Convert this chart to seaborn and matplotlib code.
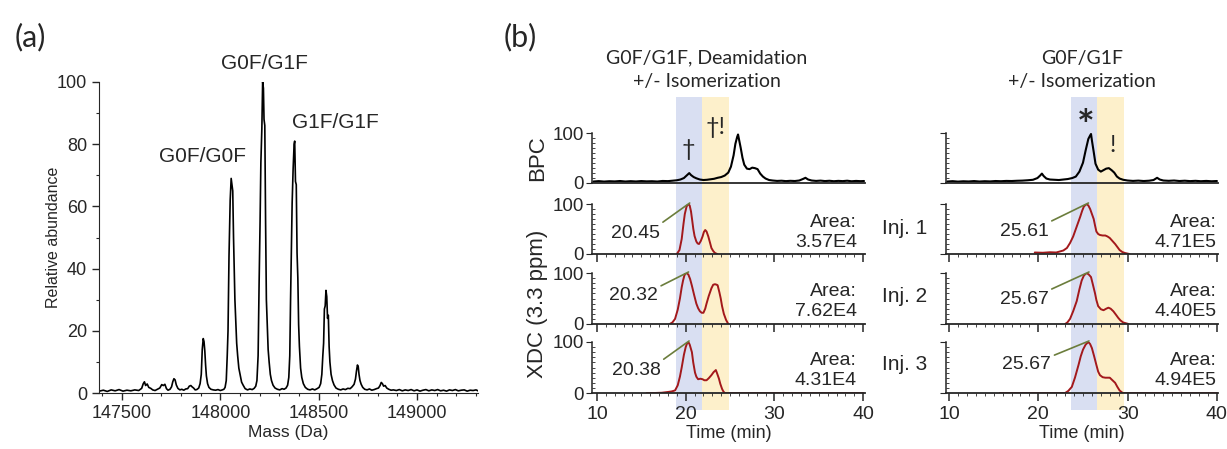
import numpy as np
import pandas as pd
import seaborn as sns
import matplotlib
matplotlib.use('Agg')
from matplotlib import pyplot as plt
from matplotlib.ticker import MultipleLocator, FixedLocator, NullLocator

sns.set_style('ticks')
plt.rcParams['font.family'] = ['Liberation Sans', 'DejaVu Sans']
CAL = ['Lato', 'DejaVu Sans']

#(a) deconvoluted intact mass spectrum
mass_da = [
    147385, 147405, 147425, 147445, 147465, 147485, 147505, 147525, 147545, 147565,
    147585, 147600, 147608, 147614, 147620, 147628, 147636, 147646, 147656, 147668,
    147680, 147692, 147702, 147710, 147718, 147726, 147734, 147744, 147752, 147758,
    147764, 147770, 147776, 147784, 147794, 147804, 147814, 147824, 147834, 147842,
    147850, 147856, 147864, 147872, 147880, 147890, 147897, 147903, 147908, 147913,
    147917, 147921, 147925, 147929, 147935, 147942, 147952, 147964, 147976, 147988,
    148000, 148010, 148018, 148024, 148030, 148035, 148039, 148044, 148050, 148055,
    148059, 148063, 148067, 148070, 148074, 148078, 148083, 148088, 148094, 148100,
    148108, 148116, 148126, 148138, 148150, 148162, 148172, 148180, 148186, 148192,
    148197, 148202, 148206, 148211, 148215, 148219, 148222, 148226, 148230, 148234,
    148238, 148243, 148248, 148254, 148260, 148268, 148278, 148290, 148302, 148314,
    148324, 148334, 148342, 148348, 148353, 148357, 148361, 148365, 148370, 148375,
    148378, 148382, 148386, 148390, 148394, 148398, 148402, 148408, 148414, 148422,
    148432, 148444, 148456, 148468, 148480, 148492, 148502, 148510, 148516, 148521,
    148525, 148529, 148533, 148537, 148541, 148545, 148549, 148553, 148557, 148563,
    148570, 148578, 148588, 148600, 148612, 148624, 148636, 148648, 148660, 148670,
    148680, 148687, 148692, 148697, 148701, 148705, 148710, 148716, 148724, 148734,
    148746, 148758, 148770, 148782, 148794, 148804, 148812, 148818, 148824, 148830,
    148838, 148846, 148856, 148868, 148880, 148895, 148910, 148925, 148940, 148955,
    148970, 148985, 149000, 149015, 149030, 149045, 149060, 149075, 149090, 149105,
    149120, 149135, 149150, 149165, 149180, 149195, 149210, 149225, 149240, 149255,
    149270, 149285, 149300, 149310]
rel_abund = [
    0.6, 0.9, 0.5, 1.0, 0.7, 1.1, 0.6, 0.9, 0.7, 1.0,
    0.8, 1.5, 3.0, 3.6, 2.4, 2.9, 1.8, 1.5, 1.0, 0.8,
    1.2, 1.6, 2.7, 2.4, 2.8, 1.4, 0.9, 1.2, 2.0, 3.6,
    4.6, 4.2, 2.6, 1.5, 1.0, 1.2, 0.9, 1.3, 1.4, 2.2,
    2.4, 2.0, 1.6, 1.0, 1.1, 1.6, 3.0, 6.0, 14.0, 17.5,
    16.5, 13.5, 9.0, 5.5, 3.0, 1.8, 1.2, 1.0, 0.9, 1.1,
    0.8, 1.0, 1.2, 1.8, 4.0, 12.0, 20.0, 44.0, 62.0, 69.0,
    67.0, 65.0, 50.0, 42.0, 30.0, 24.0, 16.0, 12.0, 8.0, 6.0,
    3.5, 2.5, 1.4, 1.0, 1.3, 1.1, 1.5, 2.2, 4.0, 12.0,
    35.0, 55.0, 74.0, 85.0, 100.0, 98.0, 88.0, 86.0, 55.0, 30.0,
    23.0, 14.0, 10.0, 6.0, 4.0, 2.5, 1.6, 1.2, 1.0, 1.4,
    1.2, 1.6, 2.5, 5.0, 12.0, 30.0, 45.0, 61.0, 72.0, 80.0,
    81.0, 68.0, 67.0, 45.0, 37.0, 22.0, 15.0, 8.0, 5.0, 3.0,
    1.8, 1.2, 1.0, 1.3, 1.0, 1.4, 1.8, 3.0, 6.0, 12.0,
    16.0, 27.0, 28.0, 33.0, 31.0, 24.0, 25.0, 15.0, 10.0, 6.0,
    4.0, 2.6, 1.6, 1.2, 1.0, 1.3, 1.1, 1.5, 1.4, 2.0,
    2.8, 4.5, 7.0, 9.0, 8.5, 6.0, 4.0, 2.8, 1.8, 1.2,
    1.0, 1.3, 0.9, 1.1, 1.4, 1.6, 2.4, 3.4, 3.0, 2.2,
    2.4, 1.6, 1.2, 0.9, 1.0, 0.8, 1.1, 0.7, 1.0, 0.8,
    1.1, 0.7, 1.0, 0.6, 0.9, 1.1, 0.7, 1.0, 0.8, 1.1,
    0.7, 0.9, 0.6, 1.0, 0.8, 1.1, 0.7, 0.9, 1.0, 0.6,
    0.9, 0.8, 1.0, 0.7]
glyco_labels = ['G0F/G0F', 'G0F/G1F', 'G1F/G1F']
glyco_label_mass = [147907, 148223, 148584]
glyco_label_y = [76, 106, 87]

#(b) base peak chromatograms
bpc_dea_t = [
    9.6, 10.2, 10.8, 11.4, 12.0, 12.6, 13.2, 13.8, 14.4, 15.0,
    15.6, 16.2, 16.8, 17.4, 18.0, 18.5, 19.0, 19.4, 19.8, 20.1,
    20.4, 20.6, 20.9, 21.2, 21.6, 22.0, 22.4, 22.8, 23.2, 23.6,
    24.0, 24.4, 24.8, 25.1, 25.4, 25.6, 25.8, 25.9, 26.0, 26.2,
    26.4, 26.6, 26.9, 27.2, 27.5, 27.8, 28.1, 28.4, 28.7, 29.0,
    29.4, 29.8, 30.3, 30.8, 31.3, 31.8, 32.3, 32.8, 33.2, 33.5,
    33.8, 34.2, 34.7, 35.2, 35.7, 36.2, 36.7, 37.2, 37.7, 38.2,
    38.7, 39.2, 39.7, 40.1]
bpc_dea_i = [
    2.0, 2.8, 1.9, 2.6, 2.2, 3.0, 2.0, 2.7, 2.1, 2.9,
    2.3, 2.6, 2.0, 3.1, 2.8, 3.6, 4.5, 6.0, 9.0, 14.0,
    19.0, 15.0, 11.0, 8.5, 6.0, 5.0, 5.5, 6.5, 7.5, 9.5,
    11.0, 14.0, 20.0, 32.0, 55.0, 78.0, 92.0, 97.0, 88.0, 70.0,
    50.0, 36.0, 28.0, 27.0, 30.0, 29.0, 27.0, 18.0, 12.0, 8.0,
    5.0, 4.0, 3.2, 3.6, 2.8, 3.4, 3.0, 4.0, 7.0, 9.5,
    6.0, 4.0, 3.2, 3.8, 2.9, 3.5, 2.6, 3.3, 2.8, 3.6,
    2.5, 3.2, 2.7, 3.0]
bpc_iso_t = [
    9.8, 10.4, 11.0, 11.6, 12.2, 12.8, 13.4, 14.0, 14.6, 15.2,
    15.8, 16.4, 17.0, 17.6, 18.2, 18.8, 19.4, 19.9, 20.2, 20.4,
    20.6, 20.9, 21.3, 21.8, 22.3, 22.8, 23.3, 23.8, 24.2, 24.6,
    25.0, 25.3, 25.6, 25.8, 25.9, 26.0, 26.2, 26.4, 26.7, 27.0,
    27.3, 27.6, 27.9, 28.2, 28.5, 28.8, 29.1, 29.5, 30.0, 30.6,
    31.2, 31.8, 32.4, 32.9, 33.3, 33.6, 34.0, 34.6, 35.2, 35.8,
    36.4, 37.0, 37.6, 38.2, 38.8, 39.4, 40.0]
bpc_iso_i = [
    2.0, 2.7, 1.8, 2.5, 2.1, 2.9, 2.0, 2.6, 2.2, 3.0,
    2.6, 3.2, 3.0, 3.5, 3.8, 4.5, 5.5, 9.0, 14.0, 18.0,
    13.0, 8.0, 6.0, 5.5, 5.0, 6.0, 7.0, 9.0, 12.0, 22.0,
    40.0, 65.0, 88.0, 95.0, 98.0, 85.0, 62.0, 38.0, 26.0, 22.0,
    25.0, 28.0, 29.0, 25.0, 20.0, 12.0, 8.0, 5.5, 4.0, 3.2,
    3.8, 3.0, 3.6, 5.0, 9.5, 6.0, 4.0, 3.4, 4.0, 3.0,
    3.6, 2.8, 3.4, 2.6, 3.2, 2.5, 3.0]

#(b) extracted deconvoluted chromatograms, three injections
xdc_dea_t = [
    [19.0, 19.3, 19.55, 19.75, 19.9, 20.1, 20.3, 20.45, 20.6, 20.75, 20.86, 21.0, 21.2,
     21.35, 21.5, 21.7, 21.9, 22.05, 22.2, 22.35, 22.55, 22.75, 22.9, 23.1, 23.3, 23.55],
    [18.2, 18.5, 18.8, 19.1, 19.35, 19.55, 19.7, 19.85, 20.0, 20.15, 20.3, 20.5, 20.7,
     20.95, 21.2, 21.4, 21.6, 21.8, 22.0, 22.2, 22.35, 22.6, 22.9, 23.1, 23.3, 23.5,
     23.6, 23.8, 23.95, 24.1, 24.3, 24.55, 24.8],
    [15.6, 16.5, 17.3, 18.0, 18.4, 18.8, 19.1, 19.35, 19.55, 19.8, 20.0, 20.15, 20.3,
     20.45, 20.7, 20.85, 21.05, 21.2, 21.4, 21.65, 21.9, 22.1, 22.35, 22.6, 22.9, 23.15,
     23.4, 23.55, 23.75, 23.9, 24.1, 24.25, 24.4, 30.0, 40.0]]
xdc_dea_i = [
    [0, 8, 30, 60, 80, 95, 100, 97, 85, 65, 50, 36, 25,
     21, 20, 26, 35, 44, 48, 45, 35, 22, 12, 6, 2, 0],
    [0, 3, 10, 28, 50, 72, 85, 95, 100, 99, 97, 88, 75,
     57, 40, 31, 25, 22, 22, 30, 40, 55, 70, 77, 78, 77,
     76, 62, 50, 35, 20, 8, 0],
    [0, 0, 0.5, 2, 3, 5, 15, 32, 50, 75, 90, 97, 100,
     95, 80, 60, 40, 32, 27, 28, 27, 25, 25, 29, 35, 41,
     45, 38, 28, 18, 8, 3, 0, 0, 0]]
xdc_iso_t = [
    [19.6, 20.5, 21.3, 22.0, 22.4, 22.8, 23.2, 23.55, 23.9, 24.3, 24.7, 24.9, 25.1,
     25.4, 25.6, 25.8, 26.0, 26.2, 26.35, 26.5, 26.7, 26.9, 27.2, 27.5, 27.75, 28.0,
     28.3, 28.6, 28.85, 29.1, 29.4, 29.7, 30.2],
    [23.0, 23.25, 23.55, 23.9, 24.3, 24.6, 24.85, 25.1, 25.4, 25.65, 25.9, 26.1, 26.35,
     26.5, 26.7, 27.0, 27.3, 27.6, 27.85, 28.1, 28.4, 28.7, 28.95, 29.2, 29.5, 30.1],
    [15.7, 20.0, 23.0, 23.35, 23.75, 24.1, 24.5, 24.75, 25.0, 25.3, 25.6, 25.8, 26.0,
     26.25, 26.5, 26.7, 26.9, 27.2, 27.5, 27.75, 28.0, 28.3, 28.6, 28.85, 29.1, 29.45,
     35.0, 40.0]]
xdc_iso_i = [
    [3, 2.5, 3.5, 3, 5, 7, 12, 22, 35, 55, 75, 86, 95,
     100, 97, 90, 80, 70, 57, 45, 40, 38, 37, 37, 35, 32,
     26, 20, 14, 8, 4, 2, 0],
    [0, 3, 10, 25, 45, 68, 85, 95, 100, 97, 92, 78, 60,
     47, 35, 29, 27, 30, 32, 30, 25, 18, 12, 7, 3, 0],
    [0, 0, 0, 4, 12, 30, 55, 72, 85, 95, 100, 96, 88,
     72, 55, 42, 35, 31, 30, 30, 30, 25, 20, 12, 5, 0,
     0, 0]]
apex_dea = ['20.45', '20.32', '20.38']
area_dea = ['3.57E4', '7.62E4', '4.31E4']
apex_iso = ['25.61', '25.67', '25.67']
area_iso = ['4.71E5', '4.40E5', '4.94E5']
inj_labels = ['Inj. 1', 'Inj. 2', 'Inj. 3']
bands_dea = [(18.9, 21.8), (21.8, 24.9)]
bands_iso = [(23.65, 26.55), (26.55, 29.6)]
band_colors = ['#d9dff2', '#fdf0cb']

W, H = 1227, 449
fig = plt.figure(figsize=(W / 100, H / 100), dpi=100)

def fx(px):
    return px / W

def fy(py):
    return 1 - py / H

# ---- panel (a)
axa = fig.add_axes([fx(99), fy(393), fx(478 - 99), (393 - 82) / H])
sns.lineplot(x=mass_da, y=rel_abund, ax=axa, color='black', linewidth=1.2,
             estimator=None, sort=False)
axa.set_xlim(147383, 149310)
axa.set_ylim(0, 100)
axa.xaxis.set_major_locator(FixedLocator([147500, 148000, 148500, 149000]))
axa.xaxis.set_minor_locator(MultipleLocator(100))
axa.yaxis.set_major_locator(MultipleLocator(20))
axa.yaxis.set_minor_locator(MultipleLocator(10))
axa.tick_params(which='major', length=5, width=1, labelsize=13, direction='out')
axa.tick_params(which='minor', length=2.5, width=0.8, direction='out')
for s in ['top', 'right']:
    axa.spines[s].set_visible(False)
axa.set_xlabel('Mass (Da)', fontsize=12.5, labelpad=2)
axa.set_ylabel('')
fig.text(fx(54), fy(237), 'Relative abundance', fontsize=11.5, rotation=90,
         ha='center', va='center')
for lab, m, yv in zip(glyco_labels, glyco_label_mass, glyco_label_y):
    axa.text(m, yv, lab, ha='center', va='center', fontsize=15, clip_on=False)
fig.text(fx(30), fy(37), '(a)', family=CAL, fontsize=22, ha='center', va='center')
fig.text(fx(520), fy(37), '(b)', family=CAL, fontsize=22, ha='center', va='center')

# ---- panel (b)
cols = [
    dict(x0=592, x1=865, xlim=(9.44, 40.21), bpc=(bpc_dea_t, bpc_dea_i), xt=xdc_dea_t,
         xi=xdc_dea_i, apex=apex_dea, area=area_dea, bands=bands_dea, ylab=True,
         title='G0F/G1F, Deamidation\n+/- Isomerization', tx=707,
         txt=[(14.3, 42), (14.1, 55), (14.4, 45)]),
    dict(x0=946, x1=1218, xlim=(9.66, 40.12), bpc=(bpc_iso_t, bpc_iso_i), xt=xdc_iso_t,
         xi=xdc_iso_i, apex=apex_iso, area=area_iso, bands=bands_iso, ylab=False,
         title='G0F/G1F\n+/- Isomerization', tx=1082,
         txt=[(18.4, 46), (18.4, 49), (18.7, 55)]),
]
row_px = [(133, 182.5), (204, 254), (273, 324), (342, 393)]

for c in cols:
    bg = fig.add_axes([fx(c['x0']), fy(410), fx(c['x1'] - c['x0']), (410 - 97) / H], zorder=0)
    bg.set_xlim(*c['xlim'])
    for (a, b), col in zip(c['bands'], band_colors):
        bg.axvspan(a, b, color=col, lw=0)
    bg.axis('off')
    fig.text(fx(c['tx']), fy(70), c['title'], family=CAL,
             fontsize=14, ha='center', va='center', linespacing=1.45)
    for r, (top, bot) in enumerate(row_px):
        ax = fig.add_axes([fx(c['x0']), fy(bot), fx(c['x1'] - c['x0']), (bot - top) / H],
                          zorder=1)
        ax.patch.set_visible(False)
        if r == 0:
            sns.lineplot(x=c['bpc'][0], y=c['bpc'][1], ax=ax, color='black',
                         linewidth=1.5, estimator=None, sort=False)
        else:
            sns.lineplot(x=c['xt'][r - 1], y=c['xi'][r - 1], ax=ax, color='#a3191c',
                         linewidth=1.4, estimator=None, sort=False)
        ax.set_xlim(*c['xlim'])
        ax.set_ylim(0, 100)
        ax.set_xlabel('')
        ax.set_ylabel('')
        for s in ['top', 'right']:
            ax.spines[s].set_visible(False)
        ax.spines['left'].set_linewidth(1.1)
        ax.spines['bottom'].set_linewidth(1.3)
        ax.yaxis.set_major_locator(FixedLocator([0, 100]))
        ax.yaxis.set_minor_locator(MultipleLocator(10))
        ax.tick_params(axis='y', which='major', length=4, direction='out',
                       labelsize=13.5, labelleft=c['ylab'], pad=2)
        ax.tick_params(axis='y', which='minor', length=2, direction='in')
        if r == 0:
            ax.xaxis.set_major_locator(NullLocator())
            ax.xaxis.set_minor_locator(NullLocator())
        else:
            ax.xaxis.set_major_locator(MultipleLocator(10))
            ax.xaxis.set_minor_locator(MultipleLocator(1))
            ax.tick_params(axis='x', which='major', length=6, width=1.1, direction='out',
                           labelsize=14, labelbottom=(r == 3))
            ax.tick_params(axis='x', which='minor', length=2.5, direction='out')
            ap = c['apex'][r - 1]
            ax.annotate(ap, xy=(float(ap), 102), xytext=c['txt'][r - 1],
                        textcoords='data', ha='center', va='center', fontsize=14,
                        annotation_clip=False,
                        arrowprops=dict(arrowstyle='-', color='#6b7d3c', lw=1.2,
                                        relpos=(1, 1), shrinkA=0, shrinkB=0))
            ax.text(0.97 if c['ylab'] else 0.995, 0.64, 'Area:', transform=ax.transAxes,
                    ha='right', va='center', fontsize=14)
            ax.text(0.97 if c['ylab'] else 0.995, 0.24, c['area'][r - 1],
                    transform=ax.transAxes, ha='right', va='center', fontsize=14)
        if r == 3:
            ax.set_xlabel('Time (min)', fontsize=13, labelpad=1)

# y labels, injection labels and peak marks
fig.text(fx(538), fy(158), 'BPC', fontsize=16, rotation=90,
         ha='center', va='center')
fig.text(fx(538), fy(304), 'XDC (3.3 ppm)', fontsize=16, rotation=90,
         ha='center', va='center')
for lab, py in zip(inj_labels, [228, 296, 365]):
    fig.text(fx(882), fy(py), lab, fontsize=15, ha='left', va='center')
fig.text(fx(688), fy(150), '\u2020', family=CAL, fontsize=17, ha='center', va='center')
fig.text(fx(716), fy(127), '\u2020!', family=CAL, fontsize=17, ha='center', va='center')
fig.text(fx(1086), fy(128), '*', family=CAL, fontsize=30, fontweight='bold',
         ha='center', va='center')
fig.text(fx(1113), fy(146), '!', family=CAL, fontsize=17, ha='center', va='center')

fig.savefig('out.png', dpi=100)
